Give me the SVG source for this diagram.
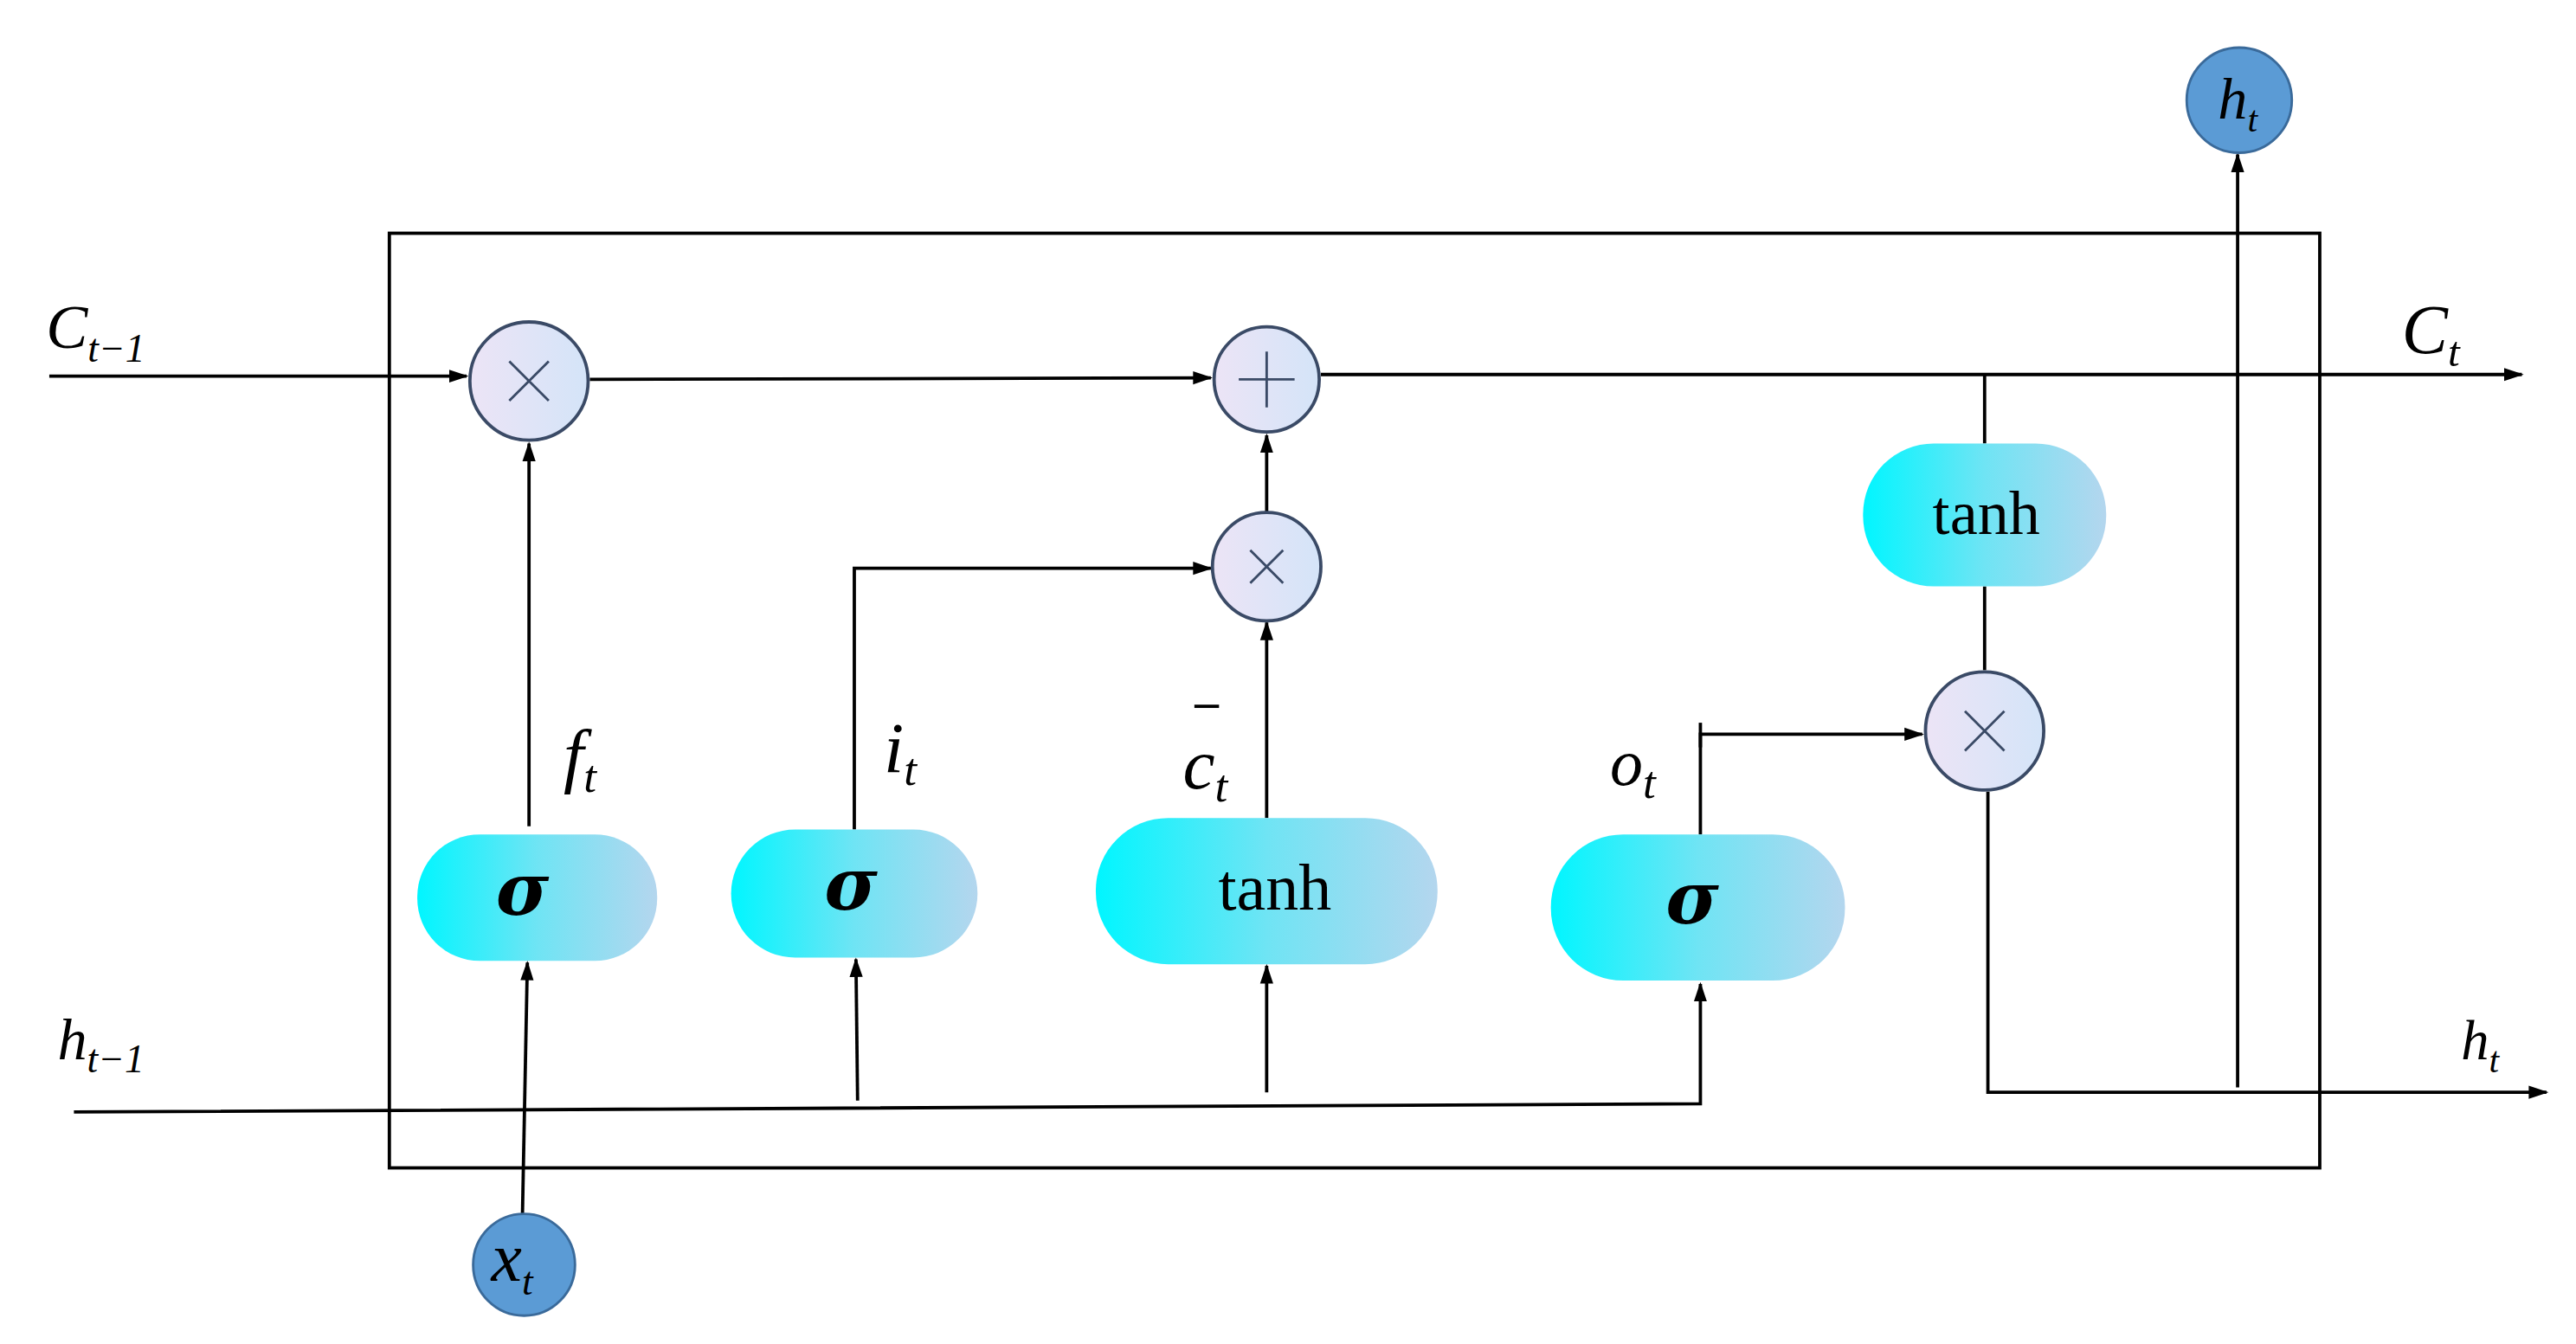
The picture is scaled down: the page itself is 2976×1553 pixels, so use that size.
<svg xmlns="http://www.w3.org/2000/svg" width="2976" height="1553" viewBox="0 0 2976 1553">
<defs>
<linearGradient id="pg" x1="0" x2="1" y1="0" y2="0"><stop offset="0" stop-color="#00f6ff"/><stop offset="0.5" stop-color="#6fe4f4"/><stop offset="1" stop-color="#b4d6ee"/></linearGradient>
<linearGradient id="cg" x1="0" x2="1"><stop offset="0" stop-color="#ece4f6"/><stop offset="1" stop-color="#d4e4f8"/></linearGradient>
<marker id="ar" viewBox="0 0 10 10" refX="9" refY="5" markerWidth="12" markerHeight="10" orient="auto" markerUnits="userSpaceOnUse" preserveAspectRatio="none"><path d="M0,1 L10,5 L0,9 z" fill="#000"/></marker>
<style>
.ln{fill:none;stroke:#000;stroke-width:2}
.op{fill:url(#cg);stroke:#3a4a66;stroke-width:2}
.pill{fill:url(#pg)}
.bl{fill:#5b9bd5;stroke:#3a6a9a;stroke-width:1.5}
.m{font-family:"Liberation Serif",serif;font-style:italic;fill:#000}
.s{font-family:"DejaVu Serif",serif;font-style:italic;font-weight:bold;fill:#000}
.t{font-family:"Liberation Serif",serif;fill:#000}
.x{stroke:#3a4a66;stroke-width:1.5;fill:none}
</style>
</defs>
<rect width="2976" height="1553" fill="#fff"/>
<g transform="scale(1.898)">
<rect id="cell" x="237" y="142" width="1175" height="569" fill="none" stroke="#000" stroke-width="2"/>
<g id="connectors">
<path class="ln" d="M30,229 L284,229" marker-end="url(#ar)"/>
<path class="ln" d="M359,231 L737,230" marker-end="url(#ar)"/>
<path class="ln" d="M804,228 L1535,228" marker-end="url(#ar)"/>
<path class="ln" d="M322,503 L322,270" marker-end="url(#ar)"/>
<path class="ln" d="M520,505 L520,346 L737,346" marker-end="url(#ar)"/>
<path class="ln" d="M771,498 L771,379" marker-end="url(#ar)"/>
<path class="ln" d="M771,312 L771,265" marker-end="url(#ar)"/>
<path class="ln" d="M1035,508 L1035,447 L1170,447" marker-end="url(#ar)"/>
<path class="ln" d="M1035,440 L1035,455"/>
<path class="ln" d="M1208,228 L1208,270"/>
<path class="ln" d="M1208,357 L1208,408"/>
<path class="ln" d="M1210,482 L1210,665 L1550,665" marker-end="url(#ar)"/>
<path class="ln" d="M1362,662 L1362,94" marker-end="url(#ar)"/>
<path class="ln" d="M45,677 L1035,672 L1035,599" marker-end="url(#ar)"/>
<path class="ln" d="M522,670 L521,584" marker-end="url(#ar)"/>
<path class="ln" d="M771,665 L771,588" marker-end="url(#ar)"/>
<path class="ln" d="M318,740 L321,586" marker-end="url(#ar)"/>
</g>
<g id="mul1"><circle class="op" cx="322" cy="232" r="36"/><path class="x" d="M310,220 L334,244 M334,220 L310,244"/></g>
<g id="plus"><circle class="op" cx="771" cy="231" r="32"/><path class="x" d="M754,231 L788,231 M771,214 L771,248"/></g>
<g id="mul2"><circle class="op" cx="771" cy="345" r="33"/><path class="x" d="M761,335 L781,355 M781,335 L761,355"/></g>
<g id="mul3"><circle class="op" cx="1208" cy="445" r="36"/><path class="x" d="M1196,433 L1220,457 M1220,433 L1196,457"/></g>
<g id="sig1"><rect class="pill" x="254" y="508" width="146" height="77" rx="38"/><text class="s" x="318" y="557" font-size="44" text-anchor="middle">σ</text></g>
<g id="sig2"><rect class="pill" x="445" y="505" width="150" height="78" rx="39"/><text class="s" x="518" y="554" font-size="44" text-anchor="middle">σ</text></g>
<g id="tanh1"><rect class="pill" x="667" y="498" width="208" height="89" rx="44"/><text class="t" x="776" y="554" font-size="40" text-anchor="middle">tanh</text></g>
<g id="sig3"><rect class="pill" x="944" y="508" width="179" height="89" rx="44"/><text class="s" x="1030" y="562" font-size="44" text-anchor="middle">σ</text></g>
<g id="tanh2"><rect class="pill" x="1134" y="270" width="148" height="87" rx="43"/><text class="t" x="1209" y="325" font-size="38" text-anchor="middle">tanh</text></g>
<g id="ht_out"><circle class="bl" cx="1363" cy="61" r="32"/><text class="m" x="1350" y="72" font-size="36">h<tspan font-size="22" dy="8">t</tspan></text></g>
<g id="xt"><circle class="bl" cx="319" cy="770" r="31"/><text class="m" x="299" y="780" font-size="42">x<tspan font-size="24" dy="8">t</tspan></text></g>
<g id="labels">
<text class="m" x="28" y="212" font-size="38">C<tspan font-size="24" dy="8">t−1</tspan></text>
<text class="m" x="1462" y="215" font-size="42">C<tspan font-size="26" dy="8">t</tspan></text>
<text class="m" x="35" y="645" font-size="36">h<tspan font-size="24" dy="8">t−1</tspan></text>
<text class="m" x="1498" y="645" font-size="34">h<tspan font-size="22" dy="8">t</tspan></text>
<text class="m" x="343" y="474" font-size="44">f<tspan font-size="28" dy="8">t</tspan></text>
<text class="m" x="538" y="470" font-size="44">i<tspan font-size="28" dy="8">t</tspan></text>
<text class="m" x="720" y="480" font-size="44">c<tspan font-size="28" dy="8">t</tspan></text>
<path d="M727,430 L742,430" stroke="#000" stroke-width="2"/>
<text class="m" x="980" y="478" font-size="40">o<tspan font-size="28" dy="8">t</tspan></text>
</g>
</g>
</svg>
